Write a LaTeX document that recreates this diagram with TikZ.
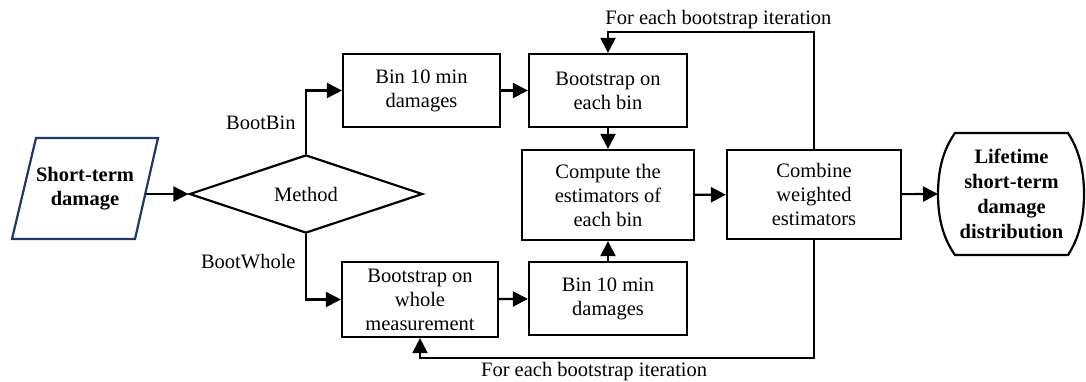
\documentclass[tikz,border=0pt]{standalone}
\usepackage{fontspec}
\setmainfont{Liberation Serif}
\usetikzlibrary{arrows.meta, shapes.geometric}

\definecolor{dmgblue}{HTML}{1F3864}

\begin{document}
\begin{tikzpicture}[x=1pt, y=-1pt,
    font=\fontsize{20.5}{24}\selectfont,
    box/.style={draw, line width=2.2pt, align=center, inner sep=0pt},
    arr/.style={line width=2.2pt, -{Triangle[length=15pt, width=15pt]}}]
  \useasboundingbox (0, 0) rectangle (1086, 381);

  % input: short-term damage
  \node[align=center, font=\fontsize{20.5}{24}\selectfont\bfseries] (dmg)
    at (85, 188.5) {Short-term\\damage};
  \draw[dmgblue, line width=2.2pt]
    (12, 239) -- (36, 138) -- (158, 138) -- (135, 239) -- cycle;
  \coordinate (dmgR) at (146, 194);

  \node[diamond, draw, line width=2.2pt, minimum width=233, minimum height=54,
    inner sep=0pt] (method) at (306, 194) {Method};

  \node[box, minimum width=157, minimum height=73] (binA) at (421.5, 90.5)
    {Bin 10 min\\damages};
  \node[box, minimum width=158, minimum height=73] (bootA) at (608, 90.5)
    {Bootstrap on\\each bin};
  \node[box, minimum width=172, minimum height=90] (comp) at (608, 195)
    {Compute the\\estimators of\\each bin};
  \node[box, minimum width=158, minimum height=73] (binB) at (608, 298.5)
    {Bin 10 min\\damages};
  \node[box, minimum width=156, minimum height=75] (bootW) at (420, 299.5)
    {Bootstrap on\\whole\\measurement};
  \node[box, minimum width=174, minimum height=89] (comb) at (814, 194.5)
    {Combine\\weighted\\estimators};

  % output: terminal with bulging sides
  \node[align=center, font=\fontsize{20.5}{25}\selectfont\bfseries] (life)
    at (1011.5, 194) {Lifetime\\short-term\\damage\\distribution};
  \draw[line width=2.2pt] (955, 133) -- (1068, 133)
    .. controls (1079, 150) and (1084, 170) .. (1084, 194)
    .. controls (1084, 218) and (1079, 238) .. (1068, 255) -- (955, 255)
    .. controls (943, 238) and (938, 218) .. (938, 194)
    .. controls (938, 170) and (943, 150) .. (955, 133) -- cycle;
  \coordinate (lifeL) at (938, 194);

  \coordinate (loopT) at (0, 32);
  \coordinate (loopB) at (0, 358);

  \draw[arr] (dmgR) -- (method.west);
  \draw[arr] (method.north) |- node[pos=0.243, left=6pt] {BootBin} (binA.west);
  \draw[arr] (method.south) |- node[pos=0.21, left=6pt] {BootWhole} (bootW.west);
  \draw[arr] (binA) -- (bootA);
  \draw[arr] (bootA) -- (comp);
  \draw[arr] (binB) -- (comp);
  \draw[arr] (bootW) -- (binB);
  \draw[arr] (comp) -- (comb);
  \draw[arr] (comb) -- (lifeL);

  \draw[arr] (comb.north) -- (comb.north |- loopT) -| (bootA.north)
    node[pos=0.232, above=-1pt] {For each bootstrap iteration};
  \draw[arr] (comb.south) -- (comb.south |- loopB) -| (bootW.south)
    node[pos=0.279, below=0pt] {For each bootstrap iteration};
\end{tikzpicture}
\end{document}
